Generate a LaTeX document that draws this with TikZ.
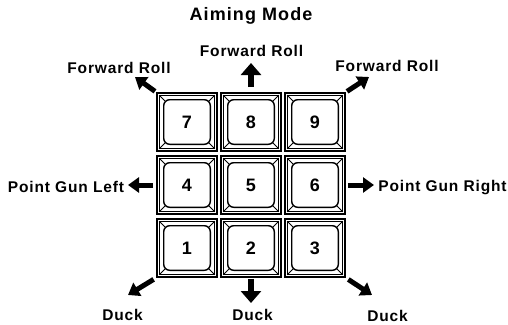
\documentclass[tikz,border=0pt]{standalone}
\usepackage{fontspec}
\setmainfont{Liberation Sans}
\newfontfamily\lblfont[LetterSpace=5.5]{Liberation Sans}
\newfontfamily\ttlfont[LetterSpace=6]{Liberation Sans}
\usetikzlibrary{arrows.meta}
\begin{document}
\begin{tikzpicture}[x=1pt,y=-1pt,
  keycap/.style={minimum width=60pt,minimum height=58pt,inner sep=0pt,draw,
    line width=1.6pt,font=\fontsize{18}{18}\selectfont\bfseries},
  keyframe/.style={line width=0.9pt},
  keyface/.style={line width=1.4pt,rounded corners=6pt},
  lbl/.style={anchor=base,inner sep=0pt,font=\lblfont\bfseries\fontsize{15.5}{17}\selectfont},
  ttl/.style={anchor=base,inner sep=0pt,font=\ttlfont\bfseries\fontsize{18}{20}\selectfont},
  arr/.style={line width=5pt,-{Triangle[width=15pt,length=11pt]}},
  bigarr/.style={line width=6.5pt,-{Triangle[width=20pt,length=12pt]}}]
\useasboundingbox (0,0) rectangle (508,324);

% keypad
\foreach \d/\cx/\cy in {7/187/122,8/251/122,9/315/122,
                        4/187/185,5/251/185,6/315/185,
                        1/187/248,2/251/248,3/315/248}{
  \node[keycap] (k\d) at (\cx,\cy) {\d};
  \draw[keyframe] ([shift={(3,3)}]k\d.north west) rectangle ([shift={(-3,-3)}]k\d.south east);
  \draw[keyface] ([shift={(7.5,7.5)}]k\d.north west) rectangle ([shift={(-7.5,-7.5)}]k\d.south east);
  \draw[keyframe] ([shift={(3,3)}]k\d.north west) -- ([shift={(9.3,9.3)}]k\d.north west)
                  ([shift={(-3,3)}]k\d.north east) -- ([shift={(-9.3,9.3)}]k\d.north east)
                  ([shift={(3,-3)}]k\d.south west) -- ([shift={(9.3,-9.3)}]k\d.south west)
                  ([shift={(-3,-3)}]k\d.south east) -- ([shift={(-9.3,-9.3)}]k\d.south east);
}

% labels
\node[ttl] (title) at (251,20) {Aiming Mode};
\node[lbl] (lN)  at (251.5,56) {Forward Roll};
\node[lbl] (lNW) at (119,73) {Forward Roll};
\node[lbl] (lNE) at (387,71) {Forward Roll};
\node[lbl] (lW)  at (66,192) {Point Gun Left};
\node[lbl] (lE)  at (442.5,191) {Point Gun Right};
\node[lbl] (lSW) at (122.5,320) {Duck};
\node[lbl] (lS)  at (252.5,320) {Duck};
\node[lbl] (lSE) at (387.5,321) {Duck};

% arrow tips
\coordinate (tN)  at (251,63);
\coordinate (tNW) at (135,77);
\coordinate (tNE) at (369,77);
\coordinate (tW)  at (128,185);
\coordinate (tE)  at (374,185);
\coordinate (tSW) at (128,295);
\coordinate (tS)  at (251,303);
\coordinate (tSE) at (372,295);

% arrows
\draw[bigarr,shorten <=5pt] (k8.north) -- (tN);
\draw[arr,shorten <=1.5pt] (k7.north west) -- (tNW);
\draw[arr,shorten <=1.5pt] (k9.north east) -- (tNE);
\draw[arr,shorten <=3pt] (k4.west) -- (tW);
\draw[arr,shorten <=2pt] (k6.east) -- (tE);
\draw[arr,shorten <=3pt] (k1.south west) -- (tSW);
\draw[bigarr,shorten <=1pt] (k2.south) -- (tS);
\draw[arr,shorten <=3pt] (k3.south east) -- (tSE);
\end{tikzpicture}
\end{document}
